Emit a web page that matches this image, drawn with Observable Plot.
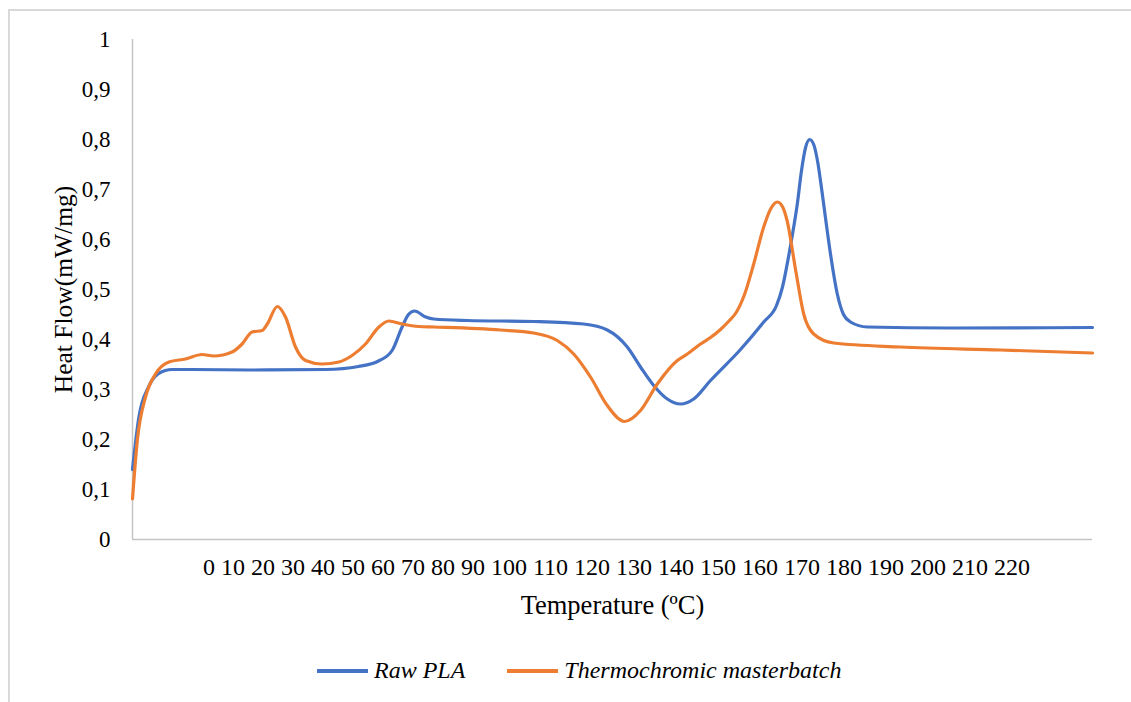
<!DOCTYPE html>
<html>
<head>
<meta charset="utf-8">
<script src="https://cdn.jsdelivr.net/npm/d3@7"></script>
<script src="https://cdn.jsdelivr.net/npm/@observablehq/plot@0.6"></script>
<style>
  html, body { margin: 0; padding: 0; background: #fff; overflow: hidden; }
  #frame {
    position: absolute; left: 8px; top: 9px; width: 1140px; height: 720px;
    border-left: 2px solid #d9d9d9; border-top: 2px solid #d9d9d9;
    box-sizing: border-box;
  }
  #chart { position: absolute; left: 0; top: 0; }
  #legend {
    position: absolute; top: 657px; left: 317px;
    display: flex; align-items: center;
    font-family: "Liberation Serif", "Times New Roman", serif;
    font-style: italic; font-size: 24px; color: #000;
  }
  .sw { display: inline-block; width: 51px; height: 4px; margin-right: 6px; }
  .item { display: flex; align-items: center; margin-right: 42px; }
</style>
</head>
<body>
<div id="frame"></div>
<div id="chart"></div>
<div id="legend"></div>
<script>
// DSC heat-flow traces: temperature (°C) and heat flow (mW/mg)
const rawTemp = [0, 1.6, 4.0, 6.5, 9.9, 15, 29.5, 48.3, 56.5, 61.5, 64.9, 67.4, 69, 70.5, 73.3, 75.3, 83.7, 100.3, 112.8, 118.7, 123.7, 127, 130.3, 133.7, 137, 140.3, 144.5, 152, 157.8, 161, 162.5, 164, 165.2, 166.2, 167.2, 168.3, 169.3, 170.3, 171.3, 172.3, 173.3, 174.5, 176.2, 177.75, 179.5, 183.7, 204.5, 240];
const rawFlow = [0.14, 0.245, 0.305, 0.332, 0.340, 0.340, 0.339, 0.340, 0.346, 0.357, 0.378, 0.425, 0.450, 0.457, 0.445, 0.441, 0.438, 0.436, 0.431, 0.419, 0.385, 0.345, 0.308, 0.281, 0.271, 0.281, 0.318, 0.380, 0.435, 0.468, 0.505, 0.565, 0.620, 0.671, 0.735, 0.785, 0.800, 0.790, 0.755, 0.700, 0.640, 0.571, 0.491, 0.450, 0.435, 0.425, 0.423, 0.424];

const mbTemp = [0, 1.2, 3.25, 5.75, 9.1, 13.25, 17.4, 20.3, 24.9, 27.4, 29.9, 32.4, 33.7, 36.2, 38.25, 40.75, 43.25, 47.4, 51.6, 54.9, 58.25, 61.6, 64.1, 67.4, 71.6, 75.3, 92, 100.3, 106.2, 110.3, 114.5, 118.7, 123, 127, 131.2, 136.2, 138.7, 142, 144.5, 147, 149, 151, 153, 155.3, 157.8, 159.6, 161.2, 162.6, 163.7, 165.8, 167.8, 170.3, 175.3, 192, 217, 240];
const mbFlow = [0.081, 0.198, 0.285, 0.331, 0.355, 0.361, 0.370, 0.367, 0.375, 0.391, 0.415, 0.418, 0.431, 0.466, 0.445, 0.385, 0.358, 0.351, 0.355, 0.368, 0.391, 0.425, 0.437, 0.431, 0.426, 0.425, 0.419, 0.413, 0.398, 0.371, 0.325, 0.268, 0.236, 0.258, 0.311, 0.358, 0.371, 0.391, 0.404, 0.420, 0.436, 0.455, 0.490, 0.551, 0.625, 0.662, 0.675, 0.664, 0.636, 0.538, 0.451, 0.411, 0.393, 0.385, 0.379, 0.373];

const seriesNames = ["Raw PLA", "Thermochromic masterbatch"];
const seriesColors = ["#4472C4", "#ED7D31"];
const tickLabels = [0, 10, 20, 30, 40, 50, 60, 70, 80, 90, 100, 110, 120, 130, 140, 150, 160, 170, 180, 190, 200, 210, 220];
const yTicks = [0, 0.1, 0.2, 0.3, 0.4, 0.5, 0.6, 0.7, 0.8, 0.9, 1];

const rows = [
  ...rawTemp.map((t, i) => ({series: seriesNames[0], t, v: rawFlow[i]})),
  ...mbTemp.map((t, i) => ({series: seriesNames[1], t, v: mbFlow[i]}))
];

const serif = "'Liberation Serif', 'Times New Roman', serif";

const chart = Plot.plot({
  width: 1131,
  height: 632,
  marginTop: 39,
  marginLeft: 132,
  marginRight: 39,
  marginBottom: 93,
  style: {fontFamily: serif, fontSize: "23px", color: "#000", background: "transparent"},
  x: {domain: [0, 240], axis: null},
  y: {domain: [0, 1], axis: null},
  color: {domain: seriesNames, range: seriesColors},
  marks: [
    Plot.axisY(yTicks, {
      tickSize: 0, tickPadding: 22, fontSize: 23,
      tickFormat: d => String(+d.toFixed(1)).replace(".", ","),
      label: null
    }),
    Plot.ruleX([0], {y1: 0, y2: 1, stroke: "#c4c4c4", strokeWidth: 1.5}),
    Plot.ruleY([0], {stroke: "#c4c4c4", strokeWidth: 1.5}),
    Plot.line(rows, {
      x: "t", y: "v", z: "series", stroke: "series",
      strokeWidth: 3.2, curve: "monotone-x"
    }),
    // category-style tick label row under the plot
    Plot.text([tickLabels.join(" ")], {
      frameAnchor: "bottom", text: d => d, dx: 4, dy: 28,
      fontSize: 24, lineAnchor: "middle"
    }),
    Plot.text(["Temperature (ºC)"], {
      frameAnchor: "bottom", text: d => d, dy: 66,
      fontSize: 26.5, lineAnchor: "middle"
    }),
    Plot.text(["Heat Flow(mW/mg)"], {
      frameAnchor: "left", text: d => d, dx: -69, rotate: -90,
      fontSize: 25.5, lineAnchor: "middle", textAnchor: "middle"
    })
  ]
});
document.getElementById("chart").appendChild(chart);

const legend = document.getElementById("legend");
seriesNames.forEach((name, i) => {
  const item = document.createElement("div");
  item.className = "item";
  const sw = document.createElement("span");
  sw.className = "sw";
  sw.style.background = seriesColors[i];
  const label = document.createElement("span");
  label.textContent = name;
  item.append(sw, label);
  legend.appendChild(item);
});
</script>
</body>
</html>
